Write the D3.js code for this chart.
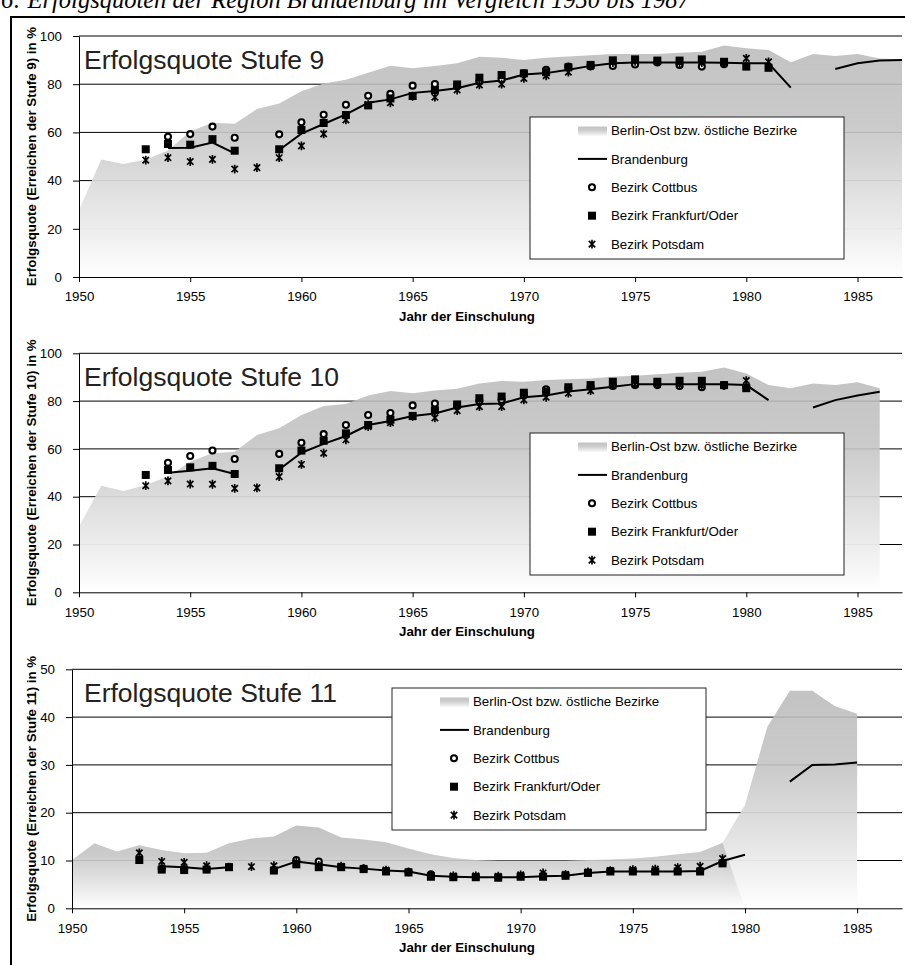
<!DOCTYPE html>
<html>
<head>
<meta charset="utf-8">
<style>
  body { margin: 0; background: #fff; }
  svg { display: block; font-family: Arial, "Liberation Sans", sans-serif; }
</style>
</head>
<body>
<svg id="chart" width="905" height="965"></svg>
<script src="https://d3js.org/d3.v7.min.js"></script>
<script>

// DATA (one value per year 1950..1987, null = no value)
const years = d3.range(1950, 1988);
const xTicks = [1950, 1955, 1960, 1965, 1970, 1975, 1980, 1985];

const legendLabels = ['Berlin-Ost bzw. östliche Bezirke', 'Brandenburg', 'Bezirk Cottbus', 'Bezirk Frankfurt/Oder', 'Bezirk Potsdam'];

// Stufe 9
const berlin9 = [27.8, 48.8, 46.9, 48.8, 52.5, 60.4, 64.0, 63.6, 69.7, 72.0,
  77.1, 80.3, 81.8, 84.8, 87.7, 86.6, 87.6, 88.7, 91.4, 91.0,
  90.0, 91.0, 91.5, 92.0, 92.5, 92.5, 92.5, 93.0, 93.5, 96.1,
  94.9, 94.2, 89.1, 92.5, 91.7, 92.5, 90.7, 90.3];
const brand9 = [null, null, null, null, 53.5, 53.6, 55.8, 51.3, null, 52.7,
  59.5, 63.5, 67.5, 72.3, 73.7, 76.4, 77.2, 78.3, 80.6, 81.5,
  84.0, 84.6, 86.0, 87.6, 88.7, 89.0, 89.0, 89.0, 89.0, 88.9,
  88.7, 88.7, 78.6, null, 86.3, 88.7, 89.8, 90.0];
const cott9 = [null, null, null, null, 58.2, 59.3, 62.4, 57.8, null, 59.2,
  64.2, 67.3, 71.5, 75.2, 76.0, 79.4, 80.1, 79.0, 81.0, 82.0,
  84.5, 86.0, 87.3, 87.5, 87.6, 88.2, 89.0, 88.0, 87.3, 88.3,
  null, null, null, null, null, null, null, null];
const frank9 = [null, null, null, 53.0, 55.2, 54.9, 57.2, 52.4, null, 53.0,
  61.0, 63.9, 67.2, 71.2, 74.1, 75.1, 77.6, 79.9, 82.7, 83.8,
  84.5, 85.0, 87.0, 88.0, 89.9, 90.3, 89.8, 89.8, 90.3, 89.3,
  87.3, 86.8, null, null, null, null, null, null];
const pots9 = [null, null, null, 48.5, 49.5, 47.9, 48.8, 44.8, 45.4, 49.5,
  54.4, 59.4, 65.2, 71.5, 72.3, 75.0, 74.6, 77.6, 79.7, 80.0,
  82.4, 83.5, 85.0, 87.5, 89.0, 89.5, 89.5, 89.0, 89.0, 89.0,
  90.7, 89.3, null, null, null, null, null, null];

// Stufe 10
const berlin10 = [27.5, 44.6, 42.4, 44.9, 48.4, 54.7, 58.2, 58.8, 65.8, 68.6,
  74.2, 77.9, 78.8, 82.3, 84.2, 83.3, 84.4, 85.2, 87.4, 88.4,
  88.1, 88.8, 89.1, 89.5, 90.2, 90.6, 91.2, 91.9, 92.3, 94.1,
  91.6, 86.7, 85.4, 87.4, 86.7, 87.9, 85.4, null];
const brand10 = [null, null, null, null, 50.0, 50.9, 51.9, 49.5, null, 51.4,
  58.4, 62.1, 65.4, 70.0, 71.7, 73.8, 74.8, 77.3, 78.8, 79.0,
  81.6, 82.3, 84.0, 85.0, 86.0, 87.1, 87.1, 87.1, 87.1, 87.0,
  86.7, 80.4, null, 77.3, 80.4, 82.3, 83.9, null];
const cott10 = [null, null, null, null, 54.2, 57.0, 59.3, 55.8, null, 57.9,
  62.6, 66.2, 70.0, 74.2, 75.0, 78.2, 79.0, 78.0, 80.0, 80.5,
  82.5, 84.9, 85.5, 86.0, 86.3, 86.7, 86.7, 86.3, 85.8, 86.5,
  85.8, null, null, null, null, null, null, null];
const frank10 = [null, null, null, 49.1, 51.2, 52.3, 52.9, 49.5, null, 51.9,
  59.3, 63.4, 66.5, 70.0, 72.2, 73.8, 76.2, 78.6, 81.2, 81.9,
  83.5, 83.9, 85.8, 86.7, 88.1, 89.1, 88.1, 88.5, 88.5, 86.7,
  85.4, null, null, null, null, null, null, null];
const pots10 = [null, null, null, 44.6, 46.6, 45.3, 45.2, 43.5, 43.7, 48.4,
  53.5, 58.2, 63.8, 69.3, 71.0, 73.5, 73.0, 76.0, 77.7, 77.7,
  80.5, 81.6, 83.3, 84.4, 86.5, 87.0, 87.0, 87.0, 86.5, 86.5,
  88.6, null, null, null, null, null, null, null];

// Stufe 11
const berlin11 = [10.1, 13.6, 11.9, 13.2, 12.2, 11.5, 11.6, 13.6, 14.6, 15.0,
  17.3, 16.9, 14.8, 14.4, 13.8, 12.5, 11.3, 10.5, 10.1, 10.0,
  10.0, 10.0, 10.0, 10.1, 10.2, 10.4, 10.8, 11.3, 11.8, 13.7,
  0, null, null, null, null, null, null, null];
const bezirke11 = [null, null, null, null, null, null, null, null, null, null,
  null, null, null, null, null, null, null, null, null, null,
  null, null, null, null, null, null, null, null, null, 13.7,
  21.6, 38.0, 45.5, 45.5, 42.3, 40.7, null, null];
const brand11 = [null, null, null, null, 8.8, 8.6, 8.2, 8.6, null, 8.2,
  9.8, 9.2, 8.6, 8.3, 7.9, 7.7, 6.8, 6.6, 6.5, 6.5,
  6.5, 6.7, 6.8, 7.4, 7.7, 7.7, 7.7, 7.7, 7.8, 9.9,
  11.2, null, 26.5, 30.0, 30.1, 30.5, null, null];
const cott11 = [null, null, null, null, 8.3, 8.2, 8.2, 8.7, null, 8.0,
  10.1, 9.8, 8.7, 8.3, 7.8, 7.6, 7.1, 6.6, 6.6, 6.5,
  6.7, 6.8, 6.9, 7.5, 7.8, 7.8, 7.8, 7.8, 7.8, 9.5,
  null, null, null, null, null, null, null, null];
const frank11 = [null, null, null, 10.1, 8.1, 8.0, 8.1, 8.6, null, 7.9,
  9.2, 8.6, 8.6, 8.2, 7.7, 7.5, 6.6, 6.5, 6.5, 6.4,
  6.6, 6.6, 6.8, 7.4, 7.7, 7.7, 7.7, 7.7, 7.7, 9.4,
  null, null, null, null, null, null, null, null];
const pots11 = [null, null, null, 11.6, 9.8, 9.6, 8.9, null, 8.7, 8.9,
  9.6, 9.0, 8.8, 8.3, 8.0, 7.6, 6.9, 6.8, 6.8, 6.7,
  7.0, 7.4, 7.1, 7.6, 7.9, 8.1, 8.2, 8.5, 8.8, 10.4,
  null, null, null, null, null, null, null, null];


// LAYOUT
const panels = [
  { title: 'Erfolgsquote Stufe 9', stufe: 9, max: 100, step: 20,
    top: 36, bottom: 277, left: 79, legend: [530, 117],
    areas: [berlin9], line: brand9, cott: cott9, frank: frank9, pots: pots9 },
  { title: 'Erfolgsquote Stufe 10', stufe: 10, max: 100, step: 20,
    top: 353.3, bottom: 592.3, left: 79, legend: [530, 433],
    areas: [berlin10], line: brand10, cott: cott10, frank: frank10, pots: pots10 },
  { title: 'Erfolgsquote Stufe 11', stufe: 11, max: 50, step: 10,
    top: 669.3, bottom: 908.3, left: 72, legend: [392, 688],
    areas: [bezirke11, berlin11], line: brand11, cott: cott11, frank: frank11, pots: pots11 }
];
const right = 902;

const svg = d3.select('#chart');

var grad = svg.append('defs').append('linearGradient')
  .attr('id', 'areaGrad')
  .attr('x1', 0).attr('y1', 0).attr('x2', 0).attr('y2', 1);
[[0, '#bababa', 0.87], [0.35, '#c5c5c5', 0.9], [1, '#ffffff', 1]].forEach(function(s) {
  grad.append('stop').attr('offset', s[0]).attr('stop-color', s[1]).attr('stop-opacity', s[2]);
});

// caption, cut at the top of the page like in the scan
svg.append('text')
  .attr('x', 1).attr('y', 8)
  .style('font-family', '"Liberation Serif", "Times New Roman", serif')
  .style('font-style', 'italic')
  .style('font-size', '24.5px')
  .text('6: Erfolgsquoten der Region Brandenburg im Vergleich 1950 bis 1987');

svg.append('path')
  .attr('d', 'M11,965V17H905')
  .attr('fill', 'none')
  .attr('stroke', '#000')
  .attr('stroke-width', 2);

const starPath = 'M-3.2,-3.2L3.2,3.2M-3.2,3.2L3.2,-3.2M0,-4.4V4.4';

function drawMarkers(g, x, y, arr, kind) {
  var pts = years.map((yr, i) => [yr, arr[i]]).filter(d => d[1] != null);
  var sel = g.append('g').selectAll('.m').data(pts).enter();
  if (kind === 'square') {
    sel.append('rect')
      .attr('x', d => x(d[0]) - 4).attr('y', d => y(d[1]) - 4)
      .attr('width', 8).attr('height', 8)
      .attr('fill', '#000');
  } else if (kind === 'circle') {
    sel.append('circle')
      .attr('cx', d => x(d[0])).attr('cy', d => y(d[1]))
      .attr('r', 3)
      .attr('fill', '#fff').attr('stroke', '#000').attr('stroke-width', 2.1);
  } else {
    sel.append('path')
      .attr('d', starPath)
      .attr('transform', d => `translate(${x(d[0])},${y(d[1])})`)
      .attr('fill', 'none').attr('stroke', '#000').attr('stroke-width', 1.7);
  }
}

panels.forEach(function(p) {
  var x = d3.scaleLinear().domain([1950, 1987]).range([p.left, right]);
  var y = d3.scaleLinear().domain([0, p.max]).range([p.bottom, p.top]);
  var g = svg.append('g');

  // gridlines (behind the area)
  g.append('g').selectAll('line')
    .data(d3.range(p.step, p.max + 1, p.step))
    .enter().append('line')
      .attr('x1', p.left).attr('x2', right)
      .attr('y1', d => y(d)).attr('y2', d => y(d))
      .attr('stroke', '#000').attr('stroke-width', 1);

  // Berlin-Ost areas
  p.areas.forEach(function(arr) {
    var area = d3.area()
      .defined(d => d[1] != null)
      .x(d => x(d[0]))
      .y0(y(0))
      .y1(d => y(d[1]));
    g.append('path')
      .datum(years.map((yr, i) => [yr, arr[i]]))
      .attr('d', area)
      .attr('fill', 'url(#areaGrad)');
  });

  // axes
  var yAxis = d3.axisLeft(y)
    .tickValues(d3.range(0, p.max + 1, p.step))
    .tickSize(6).tickSizeOuter(0).tickPadding(11);
  var xAxis = d3.axisBottom(x)
    .tickValues(xTicks).tickFormat(d3.format('d'))
    .tickSize(5).tickSizeOuter(0).tickPadding(10);

  [g.append('g').attr('transform', `translate(${p.left},0)`).call(yAxis),
   g.append('g').attr('transform', `translate(0,${p.bottom})`).call(xAxis)]
    .forEach(function(ax) {
      ax.selectAll('text')
        .style('font-size', '13.3px')
        .style('font-family', 'Arial, "Liberation Sans", sans-serif')
        .attr('fill', '#000');
      ax.selectAll('line, path').attr('stroke', '#000');
    });

  // Brandenburg
  var line = d3.line()
    .defined(d => d[1] != null)
    .x(d => x(d[0]))
    .y(d => y(d[1]));
  g.append('path')
    .datum(years.map((yr, i) => [yr, p.line[i]]))
    .attr('d', line)
    .attr('fill', 'none')
    .attr('stroke', '#000')
    .attr('stroke-width', 2);

  drawMarkers(g, x, y, p.cott, 'circle');
  drawMarkers(g, x, y, p.frank, 'square');
  drawMarkers(g, x, y, p.pots, 'star');

  // titles
  g.append('text')
    .attr('x', 84).attr('y', p.top + 33)
    .style('font-size', '26.5px')
    .attr('fill', '#222')
    .text(p.title);

  g.append('text')
    .attr('transform', `translate(36,${(p.top + p.bottom) / 2}) rotate(-90)`)
    .attr('text-anchor', 'middle')
    .style('font-size', '13.3px')
    .style('font-weight', 'bold')
    .text(`Erfolgsquote (Erreichen der Stufe ${p.stufe}) in %`);

  g.append('text')
    .attr('x', 467).attr('y', p.bottom + 44)
    .attr('text-anchor', 'middle')
    .style('font-size', '13.3px')
    .style('font-weight', 'bold')
    .text('Jahr der Einschulung');

  // LEGEND
  var lx = p.legend[0], ly = p.legend[1];
  var lg = g.append('g').attr('transform', `translate(${lx},${ly})`);
  lg.append('rect')
    .attr('width', 314).attr('height', 142)
    .attr('fill', '#fff').attr('stroke', '#222').attr('stroke-width', 1);

  var rows = legendLabels.map((t, i) => ({ t, i, cy: 13.5 + i * 28.4 }));
  lg.selectAll('text.lab').data(rows).enter()
    .append('text')
      .attr('class', 'lab')
      .attr('x', 81).attr('y', d => d.cy).attr('dy', '0.36em')
      .style('font-size', '13.3px')
      .text(d => d.t);

  lg.append('rect')
    .attr('x', 48).attr('y', rows[0].cy - 4).attr('width', 29).attr('height', 10)
    .attr('fill', 'url(#areaGrad)');
  lg.append('line')
    .attr('x1', 48).attr('x2', 77).attr('y1', rows[1].cy).attr('y2', rows[1].cy)
    .attr('stroke', '#000').attr('stroke-width', 2);
  lg.append('circle')
    .attr('cx', 62).attr('cy', rows[2].cy).attr('r', 3)
    .attr('fill', '#fff').attr('stroke', '#000').attr('stroke-width', 2.1);
  lg.append('rect')
    .attr('x', 58).attr('y', rows[3].cy - 4).attr('width', 8).attr('height', 8)
    .attr('fill', '#000');
  lg.append('path')
    .attr('d', starPath)
    .attr('transform', `translate(62,${rows[4].cy})`)
    .attr('fill', 'none').attr('stroke', '#000').attr('stroke-width', 1.7);
});

</script>
</body>
</html>
